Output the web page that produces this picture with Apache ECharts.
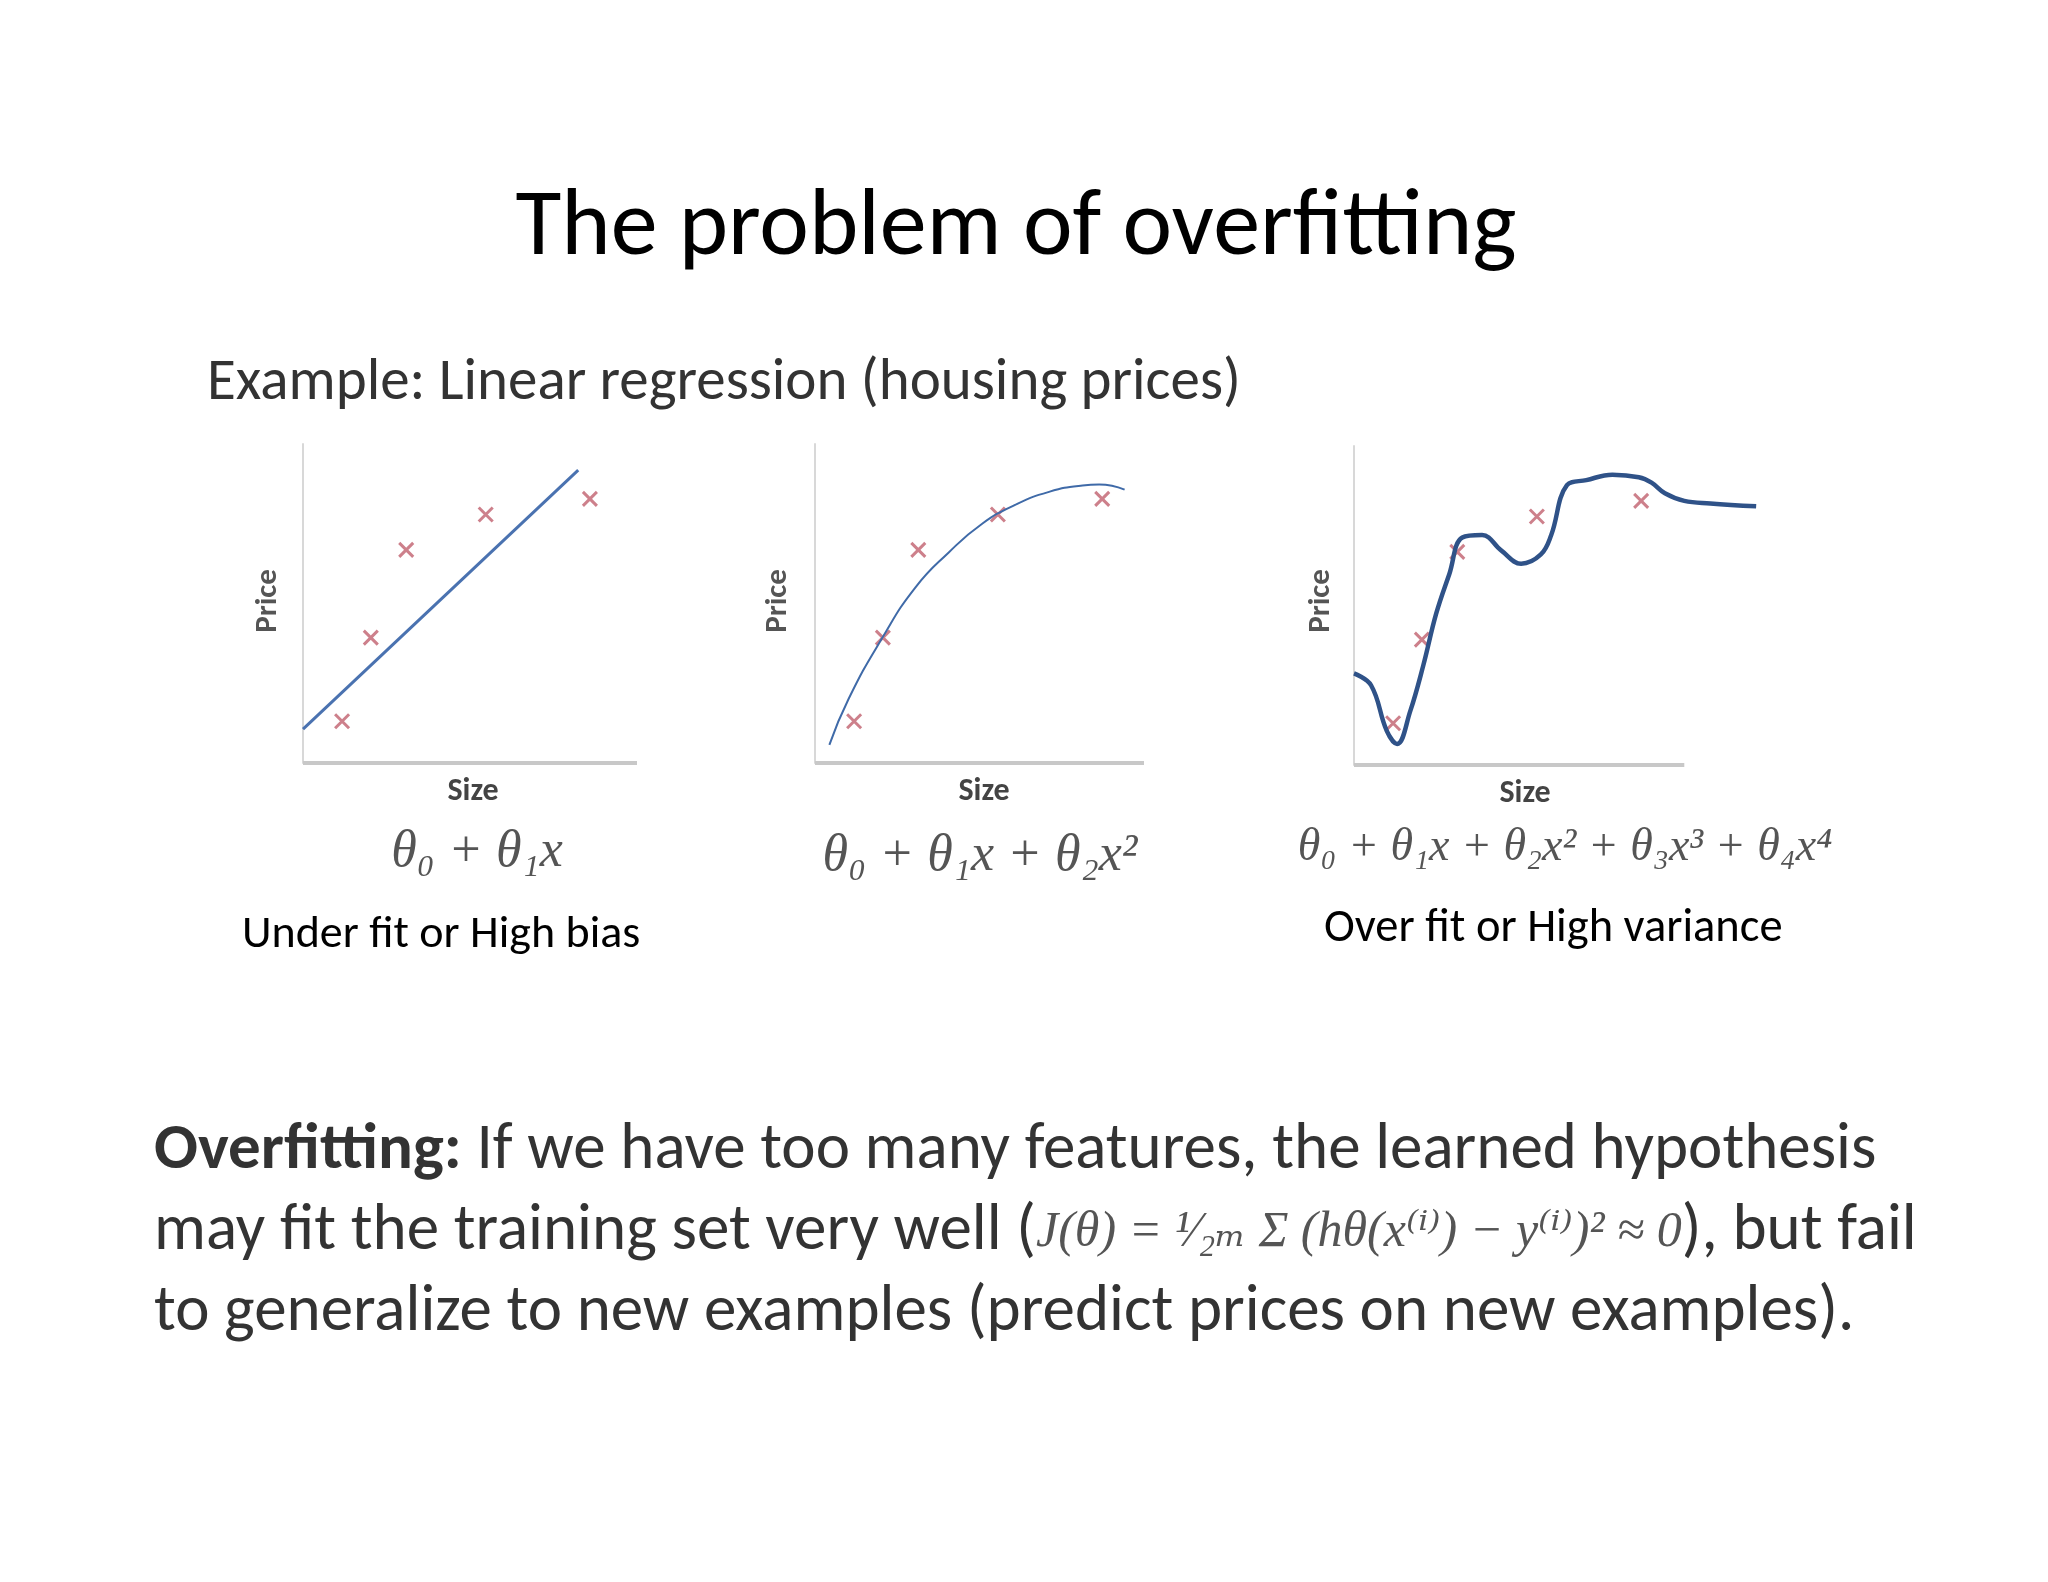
<!DOCTYPE html>
<html><head><meta charset="utf-8">
<script src="https://cdn.jsdelivr.net/npm/echarts@6/dist/echarts.min.js"></script>
<style>html,body{margin:0;padding:0;background:#fff}#c{width:2048px;height:1582px}</style>
</head><body><div id="c"></div>
<script>
// data (x = size, y = price)
const pointsX = [1.17, 2.03, 3.09, 5.47, 8.59];
const pointsY = [1.31, 3.93, 6.68, 7.79, 8.28];
const linearFit = [[0, 1.06], [8.24, 9.18]];
const quadFit = [[0.43,0.57],[1,2.0],[2,3.9],[3,5.5],[4,6.6],[5,7.5],[6,8.1],[7,8.5],[8,8.7],[8.5,8.73],[9.26,8.57]];
const quarticFit = [[0,2.87],[0.51,2.5],[0.98,1.07],[1.29,0.66],[1.68,1.68],[2.07,3.11],[2.46,4.75],[2.85,5.98],[3.24,7.13],[3.83,7.21],[4.41,6.72],[5.0,6.31],[5.59,6.6],[5.9,7.21],[6.37,8.77],[6.95,8.93],[7.73,9.1],[8.52,9.02],[8.9,8.85],[9.3,8.52],[9.88,8.28],[10.66,8.2],[12.03,8.11]];
const xAxisEnd = [10, 9.84, 9.88];
const xMax = [10, 9.84, 12.1];

const pts = pointsX.map((x,i)=>[x,pointsY[i]]);
const chart = echarts.init(document.getElementById('c'));
const grids = [
  {left:303, top:444, width:334, height:319},
  {left:815, top:444, width:329, height:319},
  {left:1354, top:446, width:404.5, height:319}
];
const xAxes = [], yAxes = [], series = [];
grids.forEach((g,i)=>{
  xAxes.push({gridIndex:i, type:'value', min:0, max:xMax[i], axisLine:{show:false}, axisTick:{show:false}, axisLabel:{show:false}, splitLine:{show:false}});
  yAxes.push({gridIndex:i, type:'value', min:0, max:10, axisLine:{show:true, lineStyle:{color:'#d8d8d8', width:2}}, axisTick:{show:false}, axisLabel:{show:false}, splitLine:{show:false}});
  series.push({type:'line', xAxisIndex:i, yAxisIndex:i, data:[[0,0],[xAxisEnd[i],0]], symbol:'none', lineStyle:{color:'#c8c8c8', width:4}, silent:true, z:1});
  series.push({type:'scatter', xAxisIndex:i, yAxisIndex:i, data:pts, symbol:'path://M0,0L10,10M10,0L0,10', symbolSize:14,
    itemStyle:{color:'none', borderColor:'#c0606e', borderWidth:3}, z:3});
});
series.push({type:'line', xAxisIndex:0, yAxisIndex:0, data:linearFit, symbol:'none', lineStyle:{color:'#4a72b0', width:3}, z:4});
series.push({type:'line', xAxisIndex:1, yAxisIndex:1, data:quadFit, symbol:'none', smooth:0.5, lineStyle:{color:'#3f6aa8', width:2}, z:4});
series.push({type:'line', xAxisIndex:2, yAxisIndex:2, data:quarticFit, symbol:'none', smooth:0.4, lineStyle:{color:'#2f5288', width:4.5}, z:4});

const serif = '"Liberation Serif", "DejaVu Serif", serif';
const sans = 'Carlito, "Open Sans", "Noto Sans", sans-serif';
function txt(x,y,text,opt){return Object.assign({type:'text', x:x, y:y, style:Object.assign({text:text, fill:'#000', font:'40px '+sans, textVerticalAlign:'middle'}, opt||{})});}
const graphic = [
  txt(1016,230,'The problem of overfitting',{font:'94px '+sans, textAlign:'center'}),
  txt(207,384,'Example: Linear regression (housing prices)',{font:'59px '+sans, fill:'#333'}),
  {type:'text', x:268, y:601, rotation:Math.PI/2, style:{text:'Price', font:'bold 31px '+sans, fill:'#555', textAlign:'center', textVerticalAlign:'middle'}},
  {type:'text', x:778, y:601, rotation:Math.PI/2, style:{text:'Price', font:'bold 31px '+sans, fill:'#555', textAlign:'center', textVerticalAlign:'middle'}},
  {type:'text', x:1321, y:601, rotation:Math.PI/2, style:{text:'Price', font:'bold 31px '+sans, fill:'#555', textAlign:'center', textVerticalAlign:'middle'}},
  txt(473,792,'Size',{font:'bold 32px '+sans, fill:'#444', textAlign:'center'}),
  txt(984,792,'Size',{font:'bold 32px '+sans, fill:'#444', textAlign:'center'}),
  txt(1525,794,'Size',{font:'bold 32px '+sans, fill:'#444', textAlign:'center'}),
  txt(477,852,'θ₀ + θ₁x',{font:'italic 52px '+serif, fill:'#555', textAlign:'center'}),
  txt(980,856,'θ₀ + θ₁x + θ₂x²',{font:'italic 52px '+serif, fill:'#555', textAlign:'center'}),
  txt(1565,848,'θ₀ + θ₁x + θ₂x² + θ₃x³ + θ₄x⁴',{font:'italic 46px '+serif, fill:'#555', textAlign:'center'}),
  txt(242,935,'Under fit or High bias',{font:'46px '+sans}),
  txt(1324,929,'Over fit or High variance',{font:'46.5px '+sans}),
  {type:'text', x:154, y:1152, style:{textVerticalAlign:'middle', text:'{b|Overfitting:} If we have too many features, the learned hypothesis', font:'65px '+sans, fill:'#333',
    rich:{b:{font:'bold 65px '+sans, fill:'#333'}}}},
  {type:'text', x:154, y:1233, style:{textVerticalAlign:'middle', text:'may fit the training set very well ({f|J(θ) = ¹⁄₂ₘ Σ (hθ(x⁽ⁱ⁾) − y⁽ⁱ⁾)² ≈ 0}), but fail', font:'65px '+sans, fill:'#333',
    rich:{f:{font:'italic 50px '+serif, fill:'#555'}}}},
  txt(154,1314,'to generalize to new examples (predict prices on new examples).',{font:'65px '+sans, fill:'#333'})
];
chart.setOption({animation:false, backgroundColor:'#fff', grid:grids, xAxis:xAxes, yAxis:yAxes, series:series, graphic:graphic});
</script></body></html>
